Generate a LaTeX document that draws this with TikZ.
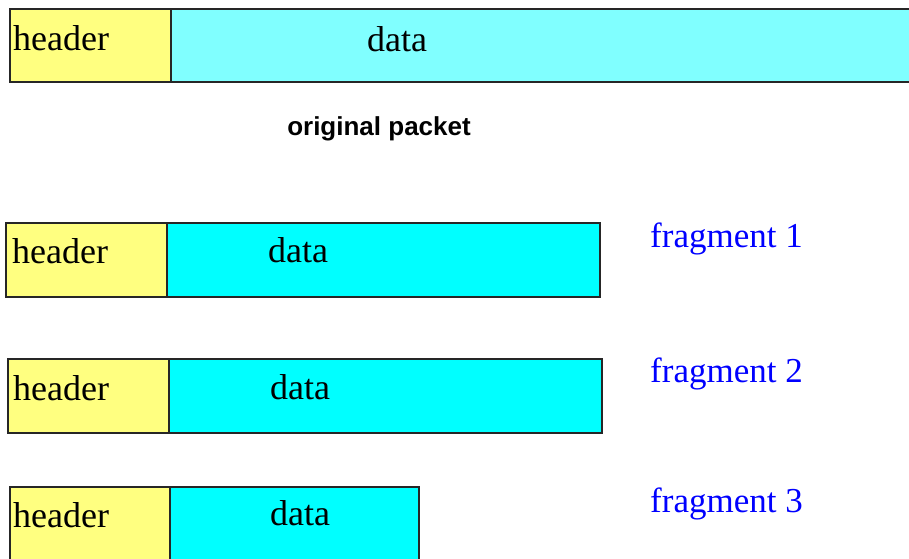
\documentclass[tikz,border=0pt]{standalone}
\usepackage{fontspec}
\setmainfont{Liberation Serif}
\newfontfamily\capfont{Liberation Sans}
\usepackage{xcolor}

\definecolor{hdryellow}{HTML}{FFFF80}
\definecolor{pktcyan}{HTML}{80FFFF}
\definecolor{fragcyan}{HTML}{00FFFF}
\definecolor{fragblue}{HTML}{0000FF}

\tikzset{
    box/.style={draw=black!85, line width=1.5pt},
    hdrtext/.style={font=\fontsize{36}{40}\selectfont, inner sep=0pt, anchor=base west},
    datatext/.style={font=\fontsize{36}{40}\selectfont, inner sep=0pt, anchor=base},
    fraglabel/.style={font=\fontsize{35}{40}\selectfont, text=fragblue, inner sep=0pt, anchor=base west}
}

\begin{document}
\begin{tikzpicture}[x=1pt,y=-1pt]
        \useasboundingbox (0,0) rectangle (909,558);
        \clip (0,0) rectangle (909,558);

        % original packet, runs off the right edge
        \coordinate (OA) at (10,9);
        \coordinate (OB) at (171,82);
        \coordinate (OC) at (916,9);
        \draw[box, fill=hdryellow] (OA) rectangle (OB);
        \draw[box, fill=pktcyan] (OB) rectangle (OC);
        \node[hdrtext] (ohdr) at (13,50) {header};
        \node[datatext] (odata) at (397,51) {data};
        \node[font=\capfont\bfseries\fontsize{26}{30}\selectfont, inner sep=0pt, anchor=base] (orig) at (379,135) {original packet};

        % fragment 1
        \coordinate (AA) at (6,223);
        \coordinate (AB) at (167,297);
        \coordinate (AC) at (600,223);
        \draw[box, fill=hdryellow] (AA) rectangle (AB);
        \draw[box, fill=fragcyan] (AB) rectangle (AC);
        \node[hdrtext] (ahdr) at (12,263) {header};
        \node[datatext] (adata) at (298,262) {data};
        \node[fraglabel] (alabel) at (650,247) {fragment 1};

        % fragment 2
        \coordinate (BA) at (8,359);
        \coordinate (BB) at (169,433);
        \coordinate (BC) at (602,359);
        \draw[box, fill=hdryellow] (BA) rectangle (BB);
        \draw[box, fill=fragcyan] (BB) rectangle (BC);
        \node[hdrtext] (bhdr) at (13,400) {header};
        \node[datatext] (bdata) at (300,399) {data};
        \node[fraglabel] (blabel) at (650,382) {fragment 2};

        % fragment 3, cut at the bottom
        \coordinate (CA) at (10,487);
        \coordinate (CB) at (170,564);
        \coordinate (CC) at (419,487);
        \draw[box, fill=hdryellow] (CA) rectangle (CB);
        \draw[box, fill=fragcyan] (CB) rectangle (CC);
        \node[hdrtext] (chdr) at (13,527) {header};
        \node[datatext] (cdata) at (300,525) {data};
        \node[fraglabel] (clabel) at (650,512) {fragment 3};

    \end{tikzpicture}
\end{document}
